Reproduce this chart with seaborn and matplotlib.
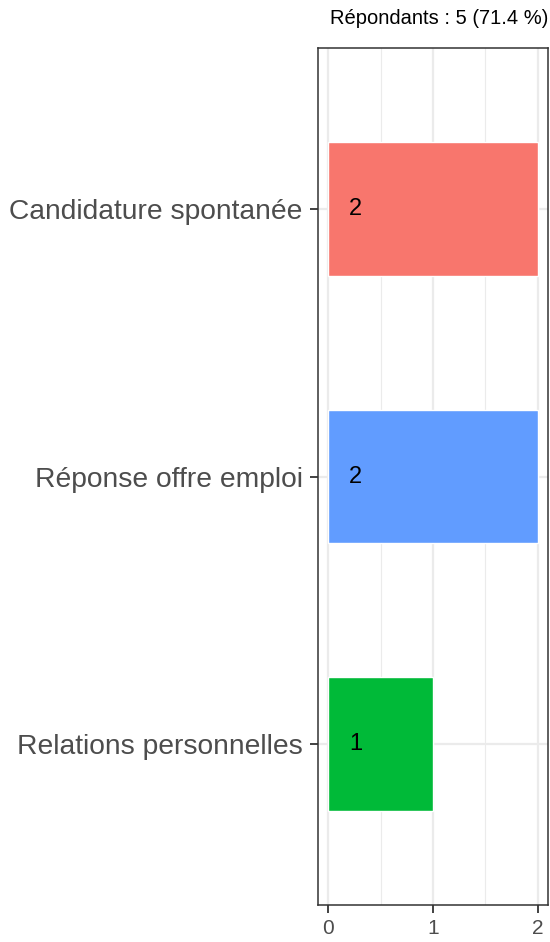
import pandas as pd
import matplotlib
matplotlib.use("Agg")
import matplotlib.pyplot as plt
import seaborn as sns

# data
categories = ["Candidature spontanée", "Réponse offre emploi", "Relations personnelles"]
counts = [2, 2, 1]
colors = ["#F8766D", "#619CFF", "#00BA38"]
title = "Répondants : 5 (71.4 %)"

df = pd.DataFrame({"categorie": categories, "n": counts})

sns.set_style("white")
plt.rcParams["font.family"] = ["Liberation Sans", "DejaVu Sans"]

fig = plt.figure(figsize=(5.5, 9.42), dpi=100)
ax = fig.add_axes([0.5776, 0.0393, 0.4188, 0.9097])

sns.barplot(data=df, y="categorie", x="n", hue="categorie",
            palette=colors, width=0.5, orient="h", legend=False,
            saturation=1, ax=ax)

# labels inside bars
for i, v in enumerate(counts):
    ax.text(0.2, i, str(v), ha="left", va="center", fontsize=17, color="black")

ax.set_xlim(-0.1, 2.1)
ax.set_ylim(2.6, -0.6)
ax.set_xticks([0, 1, 2])
ax.set_xticks([0.5, 1.5], minor=True)
ax.set_xlabel("")
ax.set_ylabel("")

ax.set_axisbelow(True)
ax.grid(True, which="major", color="#EBEBEB", linewidth=1.6)
ax.grid(True, which="minor", axis="x", color="#EBEBEB", linewidth=0.8)
for s in ax.spines.values():
    s.set_color("#333333")
    s.set_linewidth(1.1)

ax.tick_params(axis="both", which="major", length=5.8, width=1.3, color="#333333",
               labelcolor="#4D4D4D", left=True, bottom=True)
ax.tick_params(axis="y", labelsize=20.3, pad=5)
ax.tick_params(axis="x", labelsize=15, pad=4)
ax.tick_params(which="minor", length=0)

ax.set_title(title, loc="right", fontsize=14.5, pad=17, color="black")

fig.savefig("out.png", dpi=100)
